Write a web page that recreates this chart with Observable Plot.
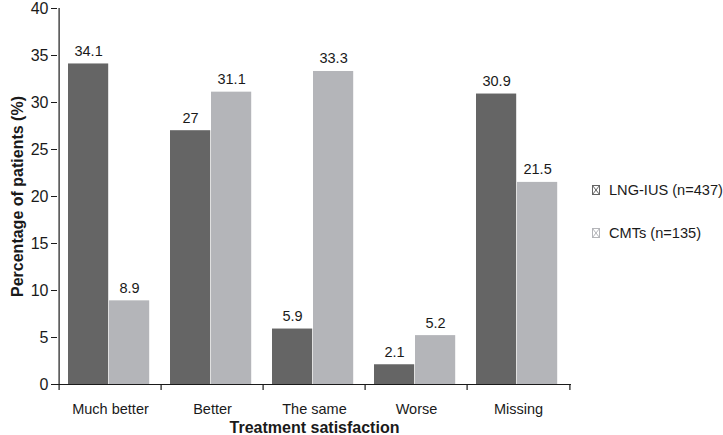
<!DOCTYPE html>
<html>
<head>
<meta charset="utf-8">
<script src="https://cdn.jsdelivr.net/npm/d3@7"></script>
<script src="https://cdn.jsdelivr.net/npm/@observablehq/plot@0.6"></script>
<style>
  html, body { margin: 0; padding: 0; background: #fff; }
  #wrap { position: relative; width: 723px; height: 435px; font-family: "Liberation Sans", Arial, sans-serif; }
  #legend { position: absolute; left: 592px; top: 180px; font-size: 14.6px; color: #1a1a1a; }
  .item { display: flex; align-items: center; height: 20px; margin-bottom: 23px; }
  .item svg { margin-right: 9px; }
</style>
</head>
<body>
<div id="wrap">
  <div id="chart"></div>
  <div id="legend"></div>
</div>
<script>
const categories = ["Much better", "Better", "The same", "Worse", "Missing"];
const seriesNames = ["LNG-IUS (n=437)", "CMTs (n=135)"];
const lngIus = [34.1, 27, 5.9, 2.1, 30.9];
const cmts = [8.9, 31.1, 33.3, 5.2, 21.5];
const yTicks = [0, 5, 10, 15, 20, 25, 30, 35, 40];
const colors = ["#656565", "#b4b5b9"];

const W = 723, H = 435, mL = 57, mR = 152, mT = 8, mB = 51;
const band = (W - mL - mR) / categories.length;

const darkData = categories.map((c, i) => ({cat: c, v: lngIus[i]}));
const lightData = categories.map((c, i) => ({cat: c, v: cmts[i]}));

// bar geometry within each band (pixels)
const dL = 9, split = 50, lR = 91;

const chart = Plot.plot({
  width: W, height: H,
  marginLeft: mL, marginRight: mR, marginTop: mT, marginBottom: mB,
  style: {fontFamily: "'Liberation Sans', Arial, sans-serif", fontSize: "14px", color: "#1a1a1a", background: "#fff", overflow: "visible"},
  x: {type: "band", domain: categories, padding: 0},
  y: {domain: [0, 40]},
  marks: [
    Plot.barY(darkData, {x: "cat", y: "v", fill: colors[0], insetLeft: dL, insetRight: band - split}),
    Plot.barY(lightData, {x: "cat", y: "v", fill: colors[1], insetLeft: split, insetRight: band - lR}),
    Plot.text(darkData, {x: "cat", y: "v", text: d => String(d.v), dx: (dL + split) / 2 - band / 2, dy: -8, lineAnchor: "bottom", fontSize: 14.5, fill: "#1a1a1a"}),
    Plot.text(lightData, {x: "cat", y: "v", text: d => String(d.v), dx: (split + lR) / 2 - band / 2, dy: -8, lineAnchor: "bottom", fontSize: 14.5, fill: "#1a1a1a"}),
    Plot.ruleY([0], {stroke: "#1a1a1a", strokeWidth: 1.2}),
    Plot.ruleX([categories[0]], {x: d => d, y1: 0, y2: 40, dx: -band / 2, stroke: "#1a1a1a", strokeWidth: 1.2}),
    Plot.ruleX(categories, {x: d => d, y1: 0, y2: -0.65, dx: -band / 2, stroke: "#1a1a1a", strokeWidth: 1.2}),
    Plot.ruleX([categories[categories.length - 1]], {x: d => d, y1: 0, y2: -0.65, dx: band / 2, stroke: "#1a1a1a", strokeWidth: 1.2}),
    Plot.axisY({ticks: yTicks, tickSize: 6, tickPadding: 3, fontSize: 16, stroke: "#1a1a1a",
      label: "Percentage of patients (%)", labelAnchor: "center", labelArrow: "none", labelOffset: 46}),
    Plot.axisX({tickSize: 0, tickPadding: 19, fontSize: 14.5,
      label: "Treatment satisfaction", labelAnchor: "center", labelArrow: "none", labelOffset: 48})
  ]
});

// bold axis titles
chart.querySelectorAll("g[aria-label='y-axis label'] text, g[aria-label='x-axis label'] text").forEach(t => {
  t.style.fontWeight = "bold";
  t.style.fontSize = "16px";
});
document.getElementById("chart").appendChild(chart);

const legend = document.getElementById("legend");
seriesNames.forEach((name, i) => {
  const item = document.createElement("div");
  item.className = "item";
  item.innerHTML = `<svg width="8" height="10" viewBox="0 0 8 10"><rect x="0.5" y="0.5" width="7" height="9" fill="#fff" stroke="${colors[i]}"/><path d="M0.5 0.5L7.5 9.5M7.5 0.5L0.5 9.5" stroke="${colors[i]}"/></svg><span>${name}</span>`;
  legend.appendChild(item);
});
</script>
</body>
</html>
